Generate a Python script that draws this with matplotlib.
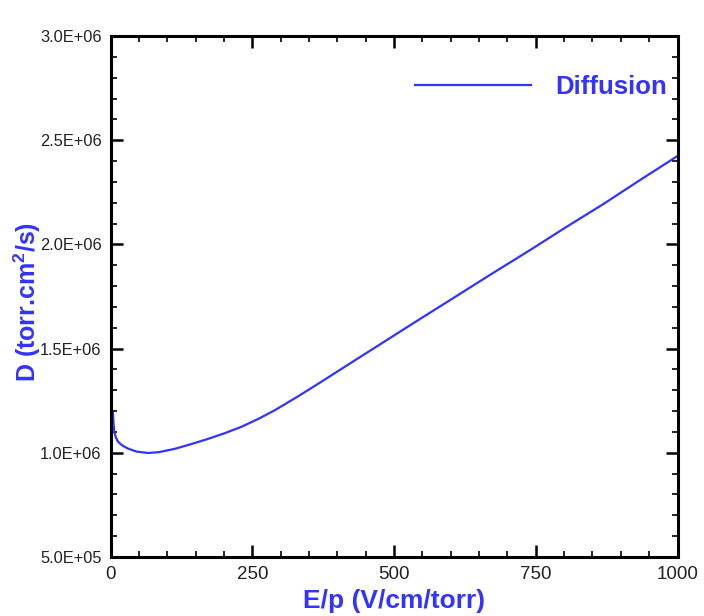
import matplotlib
matplotlib.use("Agg")
import matplotlib.pyplot as plt
from matplotlib.ticker import MultipleLocator, FuncFormatter

# Data
ep = [4, 5, 6.5, 9, 13, 20, 30, 45, 66, 85, 113, 140, 172, 200, 230, 260, 290,
      330, 370, 416, 475, 534, 600, 670, 740, 800, 870, 934, 1000]
diffusion = [1.19e6, 1.14e6, 1.10e6, 1.074e6, 1.053e6, 1.036e6, 1.021e6,
             1.006e6, 0.999e6, 1.003e6, 1.019e6, 1.040e6, 1.067e6, 1.093e6,
             1.124e6, 1.162e6, 1.205e6, 1.270e6, 1.338e6, 1.418e6, 1.520e6,
             1.622e6, 1.735e6, 1.855e6, 1.973e6, 2.077e6, 2.195e6, 2.309e6,
             2.424e6]
series_label = "Diffusion"
x_ticks = [0, 250, 500, 750, 1000]
y_ticks = [5.0e5, 1.0e6, 1.5e6, 2.0e6, 2.5e6, 3.0e6]
xlabel = "E/p (V/cm/torr)"
ylabel = r"D (torr.cm$^{2}$/s)"

plt.rcParams['font.family'] = ['Liberation Sans', 'DejaVu Sans']
plt.rcParams['mathtext.fontset'] = 'custom'
plt.rcParams['mathtext.rm'] = 'Liberation Sans:bold'
plt.rcParams['mathtext.bf'] = 'Liberation Sans:bold'
plt.rcParams['mathtext.default'] = 'bf'

blue = '#3333ff'
W, H = 704, 616
fig = plt.figure(figsize=(W / 100, H / 100), dpi=100)
left, right, top, bottom = 110.7, 677.5, 36, 557
ax = fig.add_axes([left / W, 1 - bottom / H, (right - left) / W, (bottom - top) / H])

ax.plot(ep, diffusion, color=blue, lw=1.6, label=series_label)

ax.set_xlim(0, 1000)
ax.set_ylim(5e5, 3e6)
ax.set_xticks(x_ticks)
ax.set_yticks(y_ticks)
ax.xaxis.set_minor_locator(MultipleLocator(50))
ax.yaxis.set_minor_locator(MultipleLocator(1e5))


def sci(v, pos):
    return f"{v:.1E}"


ax.yaxis.set_major_formatter(FuncFormatter(sci))

for s in ax.spines.values():
    s.set_linewidth(2.2)
    s.set_color('black')

ax.tick_params(which='both', direction='in', top=True, right=True, color='black')
ax.tick_params(which='major', length=8.6, width=1.8)
ax.tick_params(which='minor', length=4.3, width=1.2)
ax.tick_params(axis='y', which='major', labelsize=11.8, pad=6.5, labelcolor='#222222')
ax.tick_params(axis='x', which='major', labelsize=13.5, pad=6.5, labelcolor='#222222')

ax.set_xlabel(xlabel, color=blue, fontsize=19, fontweight='bold', va='center')
ax.xaxis.set_label_coords(0.5, (bottom - 601) / (bottom - top))
ax.set_ylabel(ylabel, color=blue, fontsize=18, fontweight='bold', va='center')
ax.yaxis.set_label_coords((27 - left) / (right - left), (bottom - 302) / (bottom - top))

leg = ax.legend(loc='center right', bbox_to_anchor=(667 / W, 1 - 87 / H),
                bbox_transform=fig.transFigure, frameon=False,
                handlelength=4.5, handletextpad=0.95, borderpad=0, borderaxespad=0,
                prop={'size': 18.5, 'weight': 'bold'})
for t in leg.get_texts():
    t.set_color(blue)

fig.savefig("out.png", dpi=100, facecolor='white')
